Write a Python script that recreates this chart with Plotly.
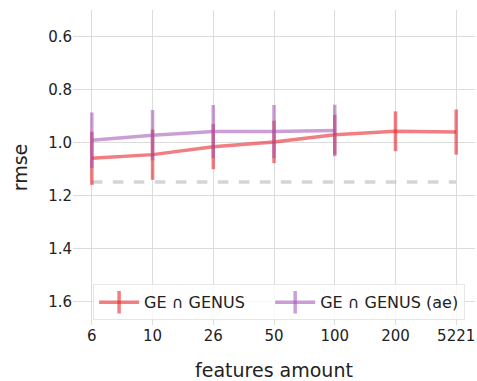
import plotly.graph_objects as go

categories = ["6", "10", "26", "50", "100", "200", "5221"]
ge_genus = [1.059, 1.045, 1.015, 0.997, 0.970, 0.957, 0.960]
ge_genus_err = [0.100, 0.095, 0.085, 0.080, 0.075, 0.075, 0.085]
ge_genus_ae = [0.991, 0.972, 0.958, 0.958, 0.954]
ge_genus_ae_err = [0.105, 0.095, 0.100, 0.100, 0.097]
baseline = [1.148] * len(categories)
series_names = ["GE ∩ GENUS", "GE ∩ GENUS (ae)"]

RED = "rgba(232,40,44,0.6)"
PURPLE = "rgba(160,80,180,0.55)"
FONT = "DejaVu Sans"

fig = go.Figure()
fig.add_trace(go.Scatter(x=categories, y=baseline, mode="lines",
                         line=dict(color="rgba(190,190,190,0.65)", width=3.5, dash="dash"),
                         showlegend=False, hoverinfo="skip"))
fig.add_trace(go.Scatter(x=categories, y=ge_genus, mode="lines",
                         line=dict(color=RED, width=3.5),
                         error_y=dict(type="data", array=ge_genus_err, color=RED,
                                      thickness=3.5, width=0),
                         showlegend=False))
fig.add_trace(go.Scatter(x=categories[:len(ge_genus_ae)], y=ge_genus_ae, mode="lines",
                         line=dict(color=PURPLE, width=3.5),
                         error_y=dict(type="data", array=ge_genus_ae_err, color=PURPLE,
                                      thickness=3.5, width=0),
                         showlegend=False))
# legend entries
fig.add_trace(go.Scatter(x=[None], y=[None], mode="lines+markers",
                         name=series_names[0] + "\u00a0" * 4,
                         line=dict(color=RED, width=3.5),
                         marker=dict(symbol="line-ns", size=16, line=dict(color=RED, width=3.5))))
fig.add_trace(go.Scatter(x=[None], y=[None], mode="lines+markers", name=series_names[1],
                         line=dict(color=PURPLE, width=3.5),
                         marker=dict(symbol="line-ns", size=16, line=dict(color=PURPLE, width=3.5))))

fig.update_layout(
    width=477, height=381,
    margin=dict(l=73, r=2, t=10, b=56),
    paper_bgcolor="white", plot_bgcolor="white",
    font=dict(family=FONT, size=15, color="#222"),
    xaxis=dict(type="category", categoryorder="array", categoryarray=categories,
               range=[-0.31, 6.31], showgrid=True, gridcolor="#dcdcdc", gridwidth=1,
               showline=False, zeroline=False, ticks="", automargin=False,
               title=dict(text="features amount", font=dict(size=19), standoff=20)),
    yaxis=dict(range=[1.687, 0.5], tickvals=[0.6, 0.8, 1.0, 1.2, 1.4, 1.6],
               ticktext=["0.6", "0.8", "1.0", "1.2", "1.4", "1.6"],
               showgrid=True, gridcolor="#dcdcdc", gridwidth=1,
               showline=False, zeroline=False, ticks="", automargin=False,
               title=dict(text="rmse", font=dict(size=19), standoff=15)),
    legend=dict(orientation="h", x=0.05, y=0.015, xanchor="left", yanchor="bottom",
                bgcolor="rgba(255,255,255,0.8)", bordercolor="#e6e6e6", borderwidth=1,
                font=dict(size=16), itemwidth=40),
)

fig.write_html("out.html", config={"displayModeBar": False},
               post_script="document.body.style.margin='0';")
